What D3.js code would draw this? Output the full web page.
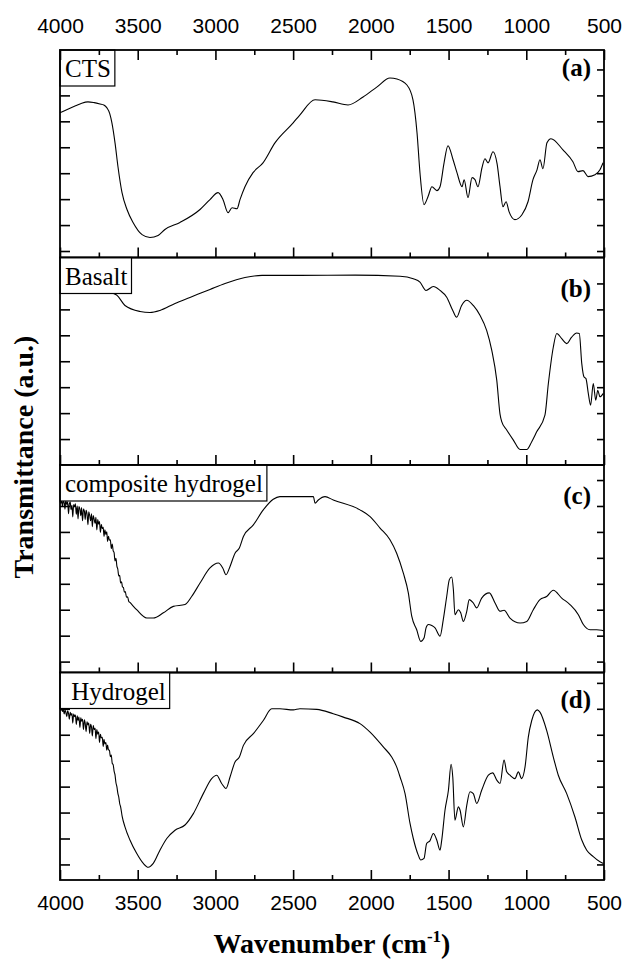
<!DOCTYPE html>
<html>
<head>
<meta charset="utf-8">
<script src="https://cdn.jsdelivr.net/npm/d3@7"></script>
<style>
    body { margin: 0; background: #fff; }
    svg { display: block; }
    .tick-label { font-family: "Liberation Sans", Arial, sans-serif; font-size: 21px; fill: #000; }
    .box-label { font-family: "Liberation Serif", "Times New Roman", serif; font-size: 25px; white-space: pre; }
    .panel-tag { font-family: "Liberation Serif", "Times New Roman", serif; font-size: 25px; font-weight: bold; }
    .axis-title { font-family: "Liberation Serif", "Times New Roman", serif; font-size: 28px; font-weight: bold; }
    .spectrum { fill: none; stroke: #000; stroke-width: 1.1; stroke-linejoin: round; }
</style>
</head>
<body>
<svg></svg>
<script>
// FTIR spectra, [wavenumber cm-1, transmittance a.u.]
const ctsData = [
    [4000, 5.58], [3950, 5.72], [3900, 5.85], [3860, 5.95], [3820, 6.0], [3780, 5.97], [3743, 5.92], [3718, 5.88],
    [3698, 5.77], [3680, 5.55], [3666, 5.19], [3646, 4.42], [3627, 3.5], [3601, 2.5], [3569, 1.85], [3530, 1.35],
    [3472, 0.88], [3421, 0.77], [3369, 0.85], [3325, 1.08], [3228, 1.35], [3099, 1.85], [3035, 2.23], [2983, 2.5],
    [2951, 2.23], [2919, 1.73], [2893, 1.92], [2861, 1.88], [2842, 2.23], [2810, 2.73], [2758, 3.27], [2694, 3.65],
    [2617, 4.42], [2500, 5.19], [2456, 5.5], [2359, 6.08], [2244, 6.0], [2147, 5.88], [2050, 6.19], [1960, 6.58],
    [1877, 6.92], [1832, 6.88], [1768, 6.65], [1729, 6.08], [1703, 4.81], [1684, 3.27], [1658, 2.04], [1632, 2.35],
    [1607, 2.73], [1575, 2.58], [1555, 2.73], [1529, 3.65], [1504, 4.31], [1471, 3.77], [1446, 3.27], [1413, 2.73],
    [1400, 3.0], [1375, 2.31], [1349, 3.08], [1330, 3.0], [1311, 2.73], [1285, 3.46], [1266, 3.81], [1246, 3.65],
    [1214, 4.08], [1188, 3.62], [1169, 2.73], [1150, 1.96], [1130, 2.15], [1111, 1.77], [1073, 1.46], [1028, 1.65],
    [989, 2.15], [957, 3.0], [931, 3.38], [912, 3.77], [893, 3.42], [867, 4.42], [841, 4.58], [764, 4.15],
    [700, 3.69], [667, 3.31], [635, 3.35], [603, 3.12], [558, 3.19], [526, 3.38], [506, 3.65]
]
const basaltData = [
    [4000, 6.9], [3850, 6.8], [3700, 6.7], [3633, 6.54], [3582, 6.15], [3485, 5.92], [3421, 5.88], [3357, 5.96],
    [3260, 6.23], [3164, 6.46], [3035, 6.77], [2938, 7.0], [2810, 7.23], [2700, 7.31], [2456, 7.31], [2100, 7.32],
    [1812, 7.28], [1727, 7.18], [1684, 7.05], [1645, 6.73], [1598, 6.88], [1555, 6.73], [1512, 6.47], [1473, 5.96],
    [1448, 5.7], [1416, 6.15], [1383, 6.35], [1341, 6.15], [1298, 5.77], [1255, 5.19], [1222, 4.42], [1190, 3.27],
    [1169, 1.96], [1158, 1.67], [1126, 1.35], [1083, 0.96], [1040, 0.6], [997, 0.6], [965, 0.9], [933, 1.28],
    [880, 1.92], [858, 3.14], [826, 4.55], [804, 5.07], [772, 4.87], [740, 4.68], [708, 4.93], [676, 5.09],
    [659, 5.07], [643, 3.91], [629, 3.4], [616, 3.33], [601, 2.76], [586, 2.31], [569, 3.14], [553, 2.5],
    [540, 2.88], [526, 2.63], [504, 2.76]
]
const compositeData = [
    [4000, 6.6], [3995, 6.52], [3990, 6.66], [3984, 6.41], [3979, 6.6], [3973, 6.55], [3968, 6.3], [3963, 6.62],
    [3956, 6.48], [3951, 6.58], [3945, 6.12], [3940, 6.5], [3934, 6.57], [3929, 6.28], [3923, 6.45], [3918, 6.0],
    [3912, 6.48], [3906, 6.38], [3901, 6.5], [3895, 6.1], [3889, 6.42], [3884, 5.92], [3878, 6.4], [3872, 6.3],
    [3866, 6.05], [3861, 6.36], [3855, 5.85], [3849, 6.3], [3843, 6.22], [3838, 5.9], [3832, 6.25], [3826, 6.1],
    [3820, 5.7], [3815, 6.2], [3809, 6.05], [3803, 5.85], [3797, 6.12], [3792, 5.62], [3786, 6.05], [3780, 5.9],
    [3774, 5.75], [3769, 5.98], [3763, 5.5], [3757, 5.9], [3751, 5.72], [3746, 5.82], [3740, 5.4], [3734, 5.7],
    [3728, 5.55], [3722, 5.6], [3717, 5.25], [3711, 5.5], [3705, 5.32], [3699, 5.42], [3694, 5.05], [3688, 5.25],
    [3682, 5.1], [3676, 5.12], [3670, 4.78], [3664, 4.95], [3658, 4.7], [3652, 4.62], [3646, 4.3], [3640, 4.4],
    [3634, 4.1], [3628, 3.98], [3622, 3.72], [3616, 3.75], [3610, 3.45], [3604, 3.5], [3598, 3.3], [3592, 3.28],
    [3586, 3.1], [3580, 3.12], [3572, 2.9], [3565, 2.92], [3558, 2.75], [3550, 2.7], [3507, 2.42], [3442, 2.1],
    [3400, 2.1], [3335, 2.3], [3271, 2.55], [3196, 2.62], [3153, 2.93], [3099, 3.45], [3035, 4.03], [2981, 4.22],
    [2953, 4.03], [2932, 3.77], [2906, 4.09], [2874, 4.6], [2846, 4.8], [2820, 5.24], [2756, 5.69], [2692, 6.27],
    [2628, 6.68], [2585, 6.78], [2456, 6.78], [2370, 6.78], [2359, 6.53], [2338, 6.65], [2295, 6.78], [2242, 6.65],
    [2070, 6.27], [2005, 6.01], [1941, 5.57], [1877, 5.12], [1834, 4.6], [1791, 3.83], [1759, 3.07], [1737, 2.17],
    [1705, 1.65], [1679, 1.2], [1658, 1.33], [1645, 1.72], [1630, 1.85], [1608, 1.81], [1587, 1.72], [1555, 1.4],
    [1534, 2.04], [1512, 2.93], [1495, 3.58], [1480, 3.68], [1469, 3.19], [1459, 2.23], [1437, 2.42], [1422, 2.3],
    [1405, 1.97], [1383, 2.36], [1367, 2.81], [1341, 2.68], [1319, 2.49], [1287, 2.87], [1238, 3.07], [1201, 2.68],
    [1169, 2.36], [1143, 2.4], [1105, 2.1], [1040, 1.91], [997, 1.97], [955, 2.42], [912, 2.81], [869, 2.93],
    [826, 3.17], [772, 2.87], [719, 2.62], [665, 2.23], [633, 1.85], [590, 1.65], [547, 1.65], [515, 1.63], [500, 1.6]
]
const hydrogelData = [
    [4000, 6.58], [3995, 6.55], [3990, 6.6], [3984, 6.5], [3979, 6.57], [3973, 6.4], [3968, 6.55], [3963, 6.48],
    [3956, 6.3], [3951, 6.52], [3945, 6.42], [3940, 6.2], [3934, 6.47], [3929, 6.35], [3923, 6.42], [3918, 6.05],
    [3912, 6.4], [3906, 6.3], [3901, 6.36], [3895, 6.0], [3889, 6.33], [3884, 6.15], [3878, 6.28], [3872, 5.88],
    [3866, 6.25], [3861, 6.12], [3855, 6.2], [3849, 5.8], [3843, 6.18], [3838, 6.05], [3832, 5.72], [3826, 6.1],
    [3820, 5.98], [3815, 6.05], [3809, 5.65], [3803, 6.0], [3797, 5.88], [3792, 5.55], [3786, 5.95], [3780, 5.8],
    [3774, 5.85], [3769, 5.45], [3763, 5.8], [3757, 5.62], [3751, 5.7], [3746, 5.3], [3740, 5.62], [3734, 5.48],
    [3728, 5.5], [3722, 5.15], [3717, 5.42], [3711, 5.25], [3705, 5.3], [3699, 5.0], [3694, 5.2], [3688, 5.02],
    [3682, 5.0], [3676, 4.75], [3670, 4.82], [3664, 4.5], [3658, 4.45], [3652, 4.2], [3646, 4.05], [3640, 3.75],
    [3634, 3.6], [3628, 3.35], [3622, 3.2], [3616, 2.95], [3610, 2.82], [3600, 2.45], [3582, 2.05], [3550, 1.54],
    [3507, 1.03], [3464, 0.64], [3432, 0.49], [3400, 0.64], [3357, 1.15], [3313, 1.6], [3260, 1.92], [3196, 2.12],
    [3142, 2.56], [3078, 3.33], [3024, 3.91], [2992, 4.04], [2960, 3.72], [2932, 3.53], [2906, 3.97], [2874, 4.55],
    [2846, 4.74], [2820, 5.19], [2756, 5.64], [2692, 6.15], [2638, 6.6], [2585, 6.6], [2499, 6.56], [2456, 6.6],
    [2348, 6.58], [2242, 6.41], [2177, 6.28], [2070, 6.03], [2005, 5.7], [1920, 5.13], [1866, 4.74], [1834, 4.36],
    [1812, 3.97], [1780, 3.33], [1748, 2.18], [1727, 1.6], [1695, 0.96], [1679, 0.77], [1658, 0.83], [1641, 1.41],
    [1620, 1.51], [1598, 1.79], [1576, 1.54], [1555, 1.15], [1544, 1.54], [1523, 2.69], [1501, 3.46], [1484, 4.46],
    [1473, 3.97], [1459, 2.31], [1437, 2.82], [1426, 2.69], [1405, 2.05], [1383, 2.88], [1362, 3.4], [1341, 3.33],
    [1319, 2.95], [1287, 3.46], [1244, 4.04], [1216, 4.13], [1190, 3.85], [1169, 3.72], [1143, 4.62], [1126, 4.17],
    [1105, 4.04], [1073, 3.91], [1051, 4.17], [1030, 3.91], [1008, 4.36], [987, 5.51], [965, 6.15], [929, 6.56],
    [912, 6.47], [869, 5.77], [826, 4.74], [794, 4.04], [740, 3.33], [687, 2.43], [643, 1.54], [611, 1.15],
    [569, 0.9], [526, 0.7], [504, 0.64]
]

const sampleNames = ["CTS", "Basalt", "composite hydrogel", " Hydrogel"]
const panelTags = ["(a)", "(b)", "(c)", "(d)"]
const xMajorTicks = [4000, 3500, 3000, 2500, 2000, 1500, 1000, 500]
const xMinorTicks = [3750, 3250, 2750, 2250, 1750, 1250, 750]
// y ticks are unlabelled, so each panel just keeps its own offsets
const yTicks = [
    [0.25, 1.25, 2.25, 3.25, 4.25, 5.25, 6.25, 7.25],
    [1, 2, 3, 4, 5, 6, 7],
    [0.42, 1.42, 2.42, 3.42, 4.42, 5.42, 6.42, 7.42],
    [0.6, 1.6, 2.6, 3.6, 4.6, 5.6, 6.6, 7.6]
]
const spectra = [ctsData, basaltData, compositeData, hydrogelData]

let chart = {}
chart.dims = { width: 624, height: 961, left: 60, right: 604, top: 50, bottom: 880 }

chart.setup = () => {
    let d = chart.dims
    chart.x = d3.scaleLinear().domain([4000, 500]).range([d.left, d.right])
    chart.panelH = (d.bottom - d.top) / spectra.length
    chart.panels = spectra.map((data, i) => {
        let top = d.top + i * chart.panelH
        let bottom = top + chart.panelH
        return {
            data: data,
            name: sampleNames[i],
            tag: panelTags[i],
            ticks: yTicks[i],
            top: top,
            bottom: bottom,
            y: d3.scaleLinear().domain([0, 8]).range([bottom, top])
        }
    })
}

chart.run = () => {
    let d = chart.dims
    let svg = d3.select("svg").attr("width", d.width).attr("height", d.height)
    let tagBaseline = [26, 39, 39, 35] // from panel top

    chart.panels.forEach((p, i) => {
        let g = svg.append("g").attr("class", "panel")

        let line = d3.line()
            .x(e => chart.x(e[0]))
            .y(e => p.y(e[1]))
            .curve(d3.curveMonotoneX)
        g.append("path")
            .datum(p.data)
            .attr("class", "spectrum")
            .attr("d", line)

        // x ticks on the bottom of every panel, pointing up
        let bottomMajor = d3.axisBottom(chart.x).tickValues(xMajorTicks).tickSize(-10).tickFormat("")
        let bottomMinor = d3.axisBottom(chart.x).tickValues(xMinorTicks).tickSize(-5).tickFormat("")
        g.append("g").attr("transform", `translate(0,${p.bottom})`).call(bottomMajor)
        g.append("g").attr("transform", `translate(0,${p.bottom})`).call(bottomMinor)

        // y ticks both sides, pointing in
        g.append("g").attr("transform", `translate(${d.left},0)`)
            .call(d3.axisLeft(p.y).tickValues(p.ticks).tickSize(-10).tickFormat(""))
        g.append("g").attr("transform", `translate(${d.right},0)`)
            .call(d3.axisRight(p.y).tickValues(p.ticks).tickSize(-7).tickFormat(""))

        // sample label in a white box
        let lab = g.append("text")
            .attr("class", "box-label")
            .attr("x", d.left + 5)
            .attr("y", p.top + 27)
            .text(p.name)
        let w = lab.node().getComputedTextLength()
        g.insert("rect", "text.box-label")
            .attr("x", d.left)
            .attr("y", p.top)
            .attr("width", w + 9)
            .attr("height", 36)
            .attr("fill", "white")
            .attr("stroke", "black")
            .attr("stroke-width", 1.2)

        g.append("text")
            .attr("class", "panel-tag")
            .attr("x", 591)
            .attr("y", p.top + tagBaseline[i])
            .attr("text-anchor", "end")
            .text(p.tag)

        g.append("rect")
            .attr("x", d.left)
            .attr("y", p.top)
            .attr("width", d.right - d.left)
            .attr("height", chart.panelH)
            .attr("fill", "none")
            .attr("stroke", "black")
            .attr("stroke-width", 1.8)
    })

    // top axis of the stack, ticks down + labels
    let topG = svg.append("g").attr("transform", `translate(0,${d.top})`)
    topG.call(d3.axisTop(chart.x).tickValues(xMajorTicks).tickSize(-10).tickPadding(17).tickFormat(d3.format("d")))
    topG.append("g").call(d3.axisTop(chart.x).tickValues(xMinorTicks).tickSize(-5).tickFormat(""))

    let botG = svg.append("g").attr("transform", `translate(0,${d.bottom})`)
    botG.call(d3.axisBottom(chart.x).tickValues(xMajorTicks).tickSize(0).tickPadding(15).tickFormat(d3.format("d")))

    svg.selectAll(".domain").remove()
    svg.selectAll(".tick line").attr("stroke", "black").attr("stroke-width", 1.6)
    svg.selectAll(".tick text").attr("class", "tick-label").attr("font-family", null).attr("font-size", null)

    // axis titles
    let xt = svg.append("text")
        .attr("class", "axis-title")
        .attr("x", (d.left + d.right) / 2)
        .attr("y", 953)
        .attr("text-anchor", "middle")
    xt.append("tspan").text("Wavenumber (cm")
    xt.append("tspan").attr("font-size", "17px").attr("dy", -11).text("-1")
    xt.append("tspan").attr("dy", 11).text(")")

    svg.append("text")
        .attr("class", "axis-title")
        .attr("transform", `translate(33,457) rotate(-90)`)
        .attr("text-anchor", "middle")
        .text("Transmittance (a.u.)")
}

chart.setup()
chart.run()
</script>
</body>
</html>
